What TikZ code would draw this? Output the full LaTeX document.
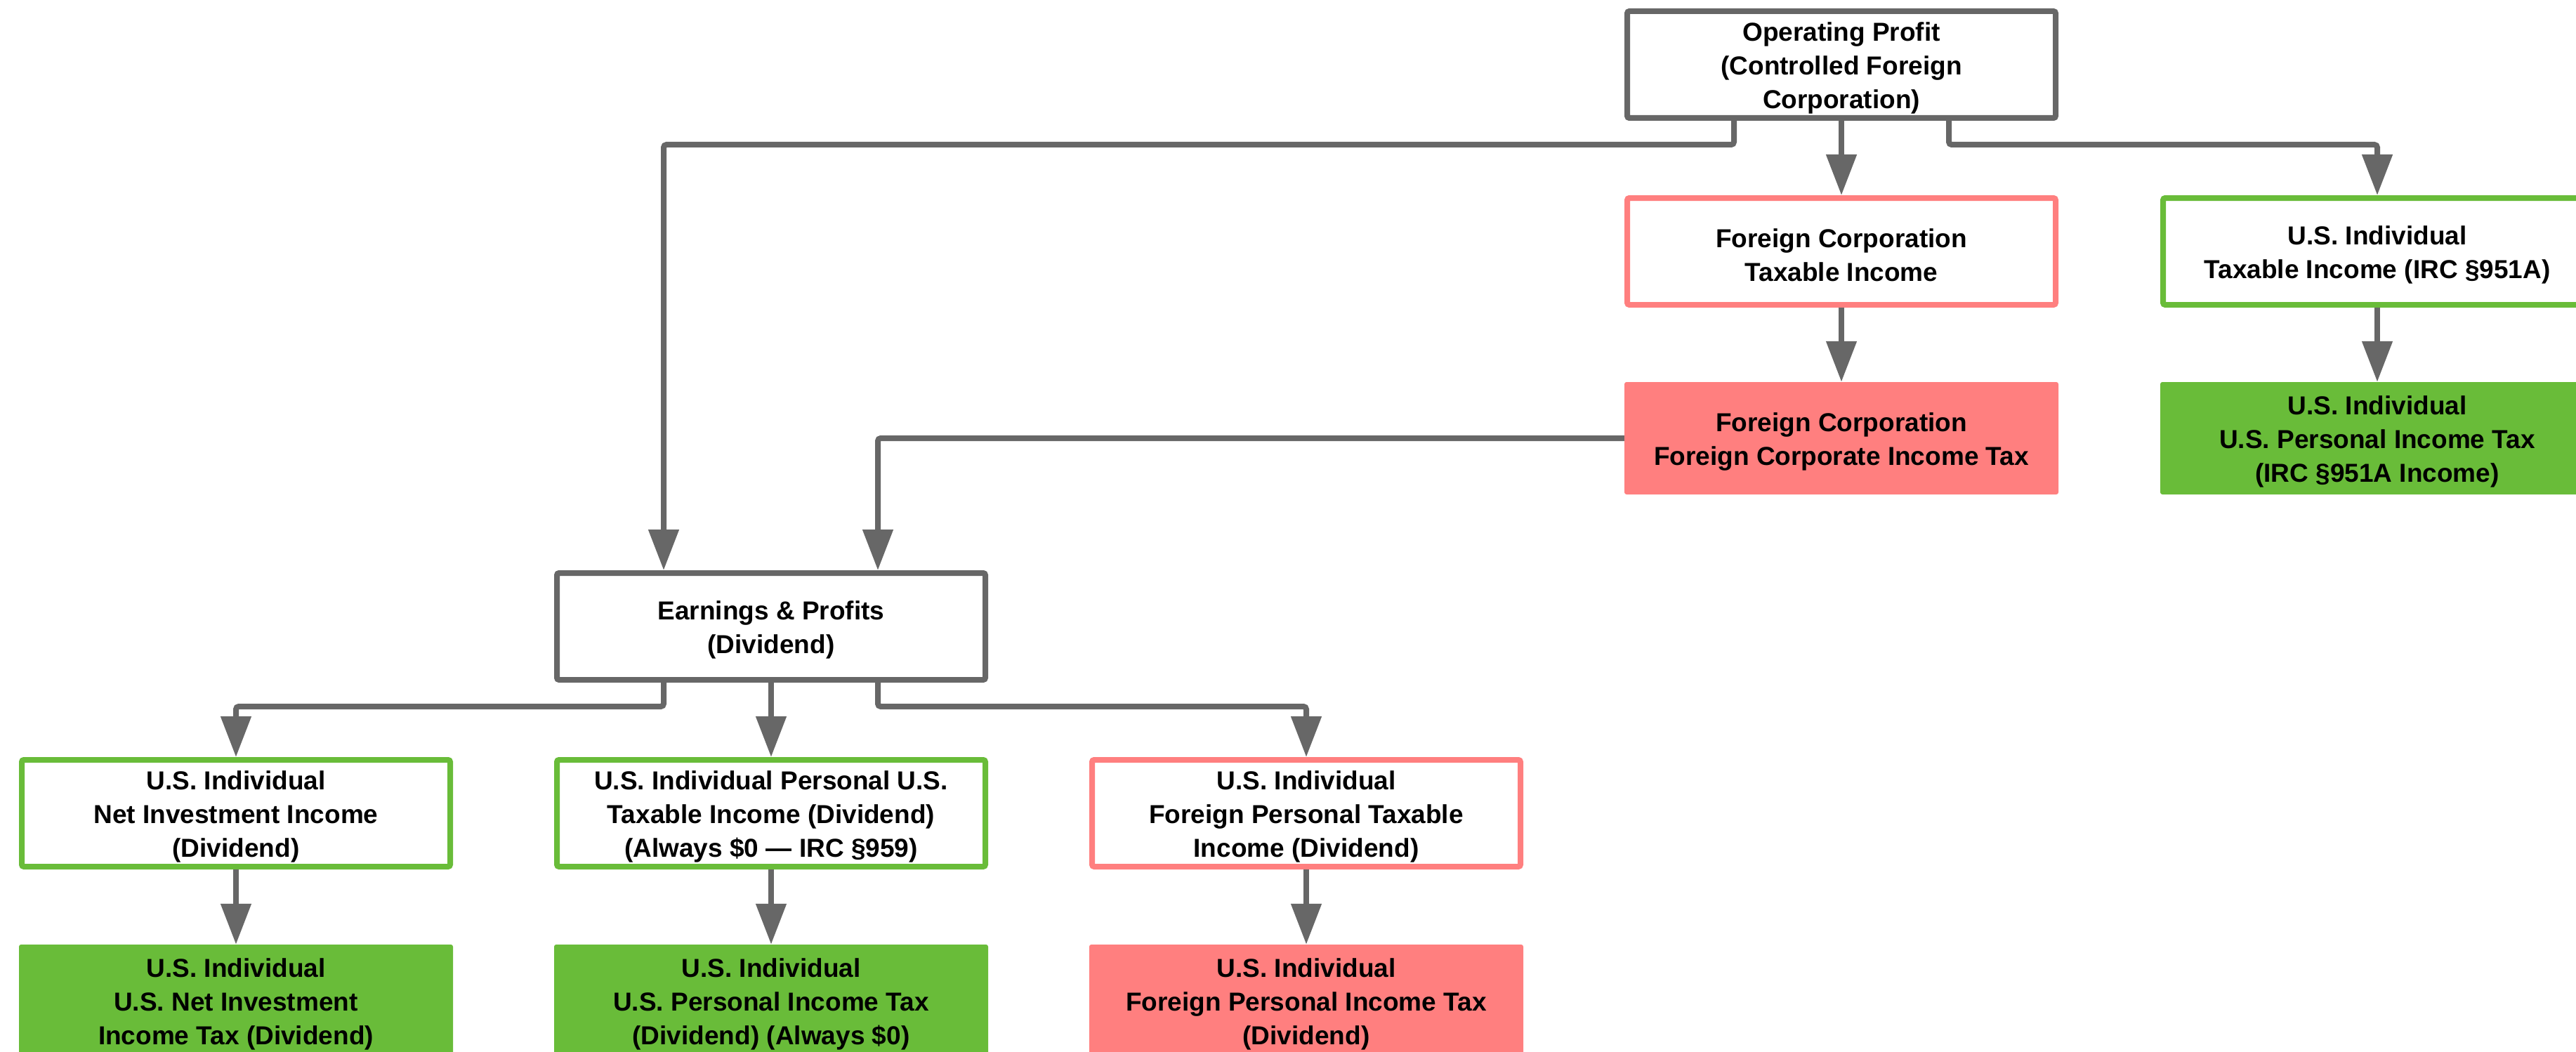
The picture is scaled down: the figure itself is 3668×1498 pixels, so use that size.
\documentclass[tikz,border=0pt]{standalone}
\usepackage{fontspec}
\setmainfont{Liberation Sans}
\usetikzlibrary{arrows.meta}
\definecolor{linegray}{HTML}{676767}
\definecolor{redc}{HTML}{FF7F7F}
\definecolor{greenc}{HTML}{69BC39}
\tikzset{
  base/.style={rectangle, rounded corners=3pt, inner sep=0pt},
  txt/.style={align=center, text=black, inner sep=0pt,
    font=\fontsize{37}{48}\selectfont\bfseries},
  graybox/.style={base, draw=linegray, line width=8pt, fill=white, minimum width=610pt, minimum height=152pt},
  redbox/.style={base, draw=redc, line width=8pt, fill=white, minimum width=610pt, minimum height=152pt},
  greenbox/.style={base, draw=greenc, line width=8pt, fill=white, minimum width=610pt, minimum height=152pt},
  redfill/.style={base, fill=redc, minimum width=618pt, minimum height=160pt},
  greenfill/.style={base, fill=greenc, minimum width=618pt, minimum height=160pt},
  conn/.style={draw=linegray, line width=8pt, rounded corners=4pt,
    -{Triangle[length=58pt, width=42pt]}},
}
\newcommand\mybox[5]{%
  \node[#1] (#2) at (#3,#4) {};
  \node[txt] (#2-t) at ([yshift=-5pt]#2.center) {#5};}
\begin{document}
\begin{tikzpicture}[x=1pt, y=-1pt]
\useasboundingbox (0,0) rectangle (3668,1498);
\clip (0,0) rectangle (3668,1498);
\fill[white] (0,0) rectangle (3668,1498);

\mybox{graybox}{op}{2622}{92}{Operating Profit\\(Controlled Foreign\\Corporation)}
\mybox{redbox}{fct}{2622}{358}{Foreign Corporation\\Taxable Income}
\mybox{greenbox}{ust}{3385}{358}{U.S. Individual\\Taxable Income (IRC §951A)}
\mybox{redfill}{fctax}{2622}{624}{Foreign Corporation\\Foreign Corporate Income Tax}
\mybox{greenfill}{usptax}{3385}{624}{U.S. Individual\\U.S. Personal Income Tax\\(IRC §951A Income)}
\mybox{graybox}{ep}{1098}{892}{Earnings \& Profits\\(Dividend)}
\mybox{greenbox}{nii}{336}{1158}{U.S. Individual\\Net Investment Income\\(Dividend)}
\mybox{greenbox}{pus}{1098}{1158}{U.S. Individual Personal U.S.\\Taxable Income (Dividend)\\(Always \$0 — IRC §959)}
\mybox{redbox}{fpt}{1860}{1158}{U.S. Individual\\Foreign Personal Taxable\\Income (Dividend)}
\mybox{greenfill}{niit}{336}{1425}{U.S. Individual\\U.S. Net Investment\\Income Tax (Dividend)}
\mybox{greenfill}{pust}{1098}{1425}{U.S. Individual\\U.S. Personal Income Tax\\(Dividend) (Always \$0)}
\mybox{redfill}{fptax}{1860}{1425}{U.S. Individual\\Foreign Personal Income Tax\\(Dividend)}

\draw[conn] (op.south) -- (fct.north);
\draw[conn] ([xshift=153pt]op.south) -- ++(0,34) -| (ust.north);
\draw[conn] ([xshift=-153pt]op.south) -- ++(0,34) -| ([xshift=-153pt]ep.north);
\draw[conn] (fct.south) -- (fctax.north);
\draw[conn] (ust.south) -- (usptax.north);
\draw[conn] (fctax.west) -| ([xshift=152pt]ep.north);
\draw[conn] ([xshift=-153pt]ep.south) -- ++(0,34) -| (nii.north);
\draw[conn] (ep.south) -- (pus.north);
\draw[conn] ([xshift=152pt]ep.south) -- ++(0,34) -| (fpt.north);
\draw[conn] (nii.south) -- (niit.north);
\draw[conn] (pus.south) -- (pust.north);
\draw[conn] (fpt.south) -- (fptax.north);
\end{tikzpicture}
\end{document}
